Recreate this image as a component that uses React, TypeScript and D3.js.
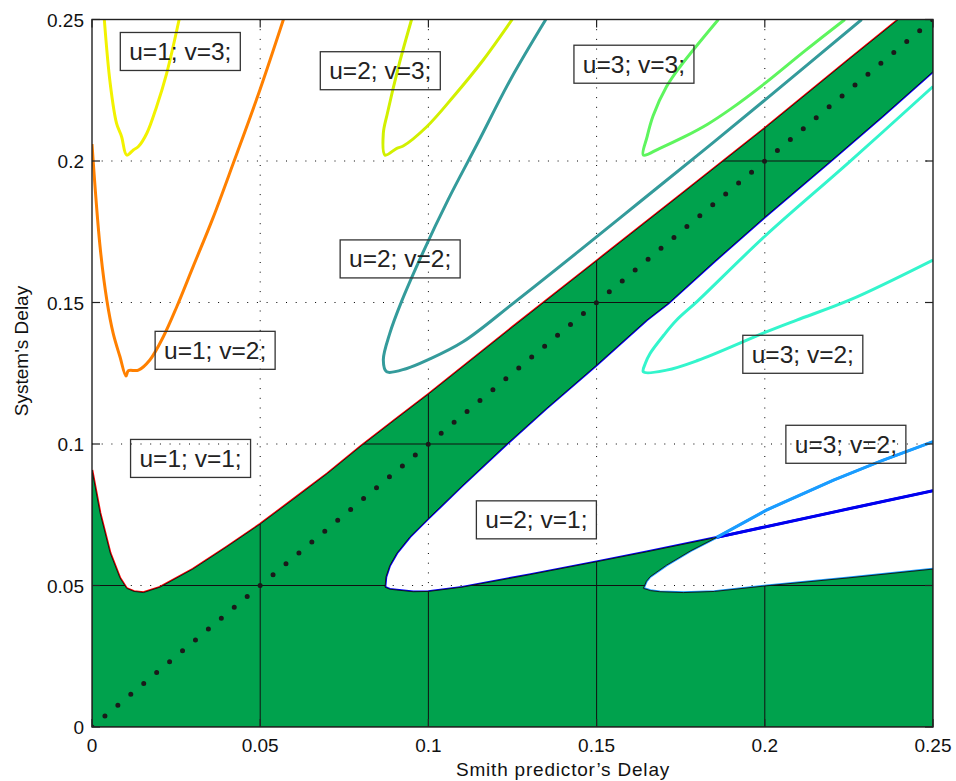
import React from 'react';
import * as d3 from 'd3';

type Pt = [number, number];

// axis ticks (both axes share them)
const ticks = [0, 0.05, 0.1, 0.15, 0.2, 0.25];
const tickLabels = ['0', '0.05', '0.1', '0.15', '0.2', '0.25'];

// stability boundary u=1; v=1 (upper edge of the green region)
const u1v1: Pt[] = [
  [0, 0.0908], [0.0024, 0.0756], [0.0054, 0.0615], [0.0083, 0.0527], [0.0103, 0.049],
  [0.0125, 0.0479], [0.0153, 0.0475], [0.0202, 0.0494], [0.03, 0.0558], [0.04, 0.0636],
  [0.05, 0.0717], [0.06, 0.0806], [0.07, 0.0896], [0.08, 0.0993], [0.09, 0.1085],
  [0.1, 0.1176], [0.125, 0.1413], [0.15, 0.1647], [0.175, 0.1881], [0.2, 0.2116],
  [0.225, 0.2359], [0.2397, 0.25],
];

// u=2; v=1 : upper and lower branch, both starting at the nose
const u2v1Upper: Pt[] = [
  [0.0871, 0.0494], [0.0874, 0.0531], [0.0885, 0.057], [0.0906, 0.0614], [0.0945, 0.0672],
  [0.1, 0.0737], [0.11, 0.0852], [0.1233, 0.1], [0.135, 0.1125], [0.15, 0.1279],
  [0.1649, 0.1438], [0.1713, 0.1497], [0.185, 0.1645], [0.2001, 0.1803], [0.2194, 0.1998],
  [0.235, 0.2158], [0.25, 0.2316],
];
const u2v1Lower: Pt[] = [
  [0.0871, 0.0494], [0.0885, 0.0487], [0.0906, 0.0484], [0.0955, 0.0478], [0.1, 0.0479],
  [0.11, 0.0494], [0.13, 0.0538], [0.15, 0.0584], [0.1649, 0.0619], [0.1857, 0.067],
  [0.2, 0.0707], [0.225, 0.0771], [0.25, 0.0835],
];

// u=3; v=2 (lower one), branches from the nose
const u3v2bUpper: Pt[] = [
  [0.1639, 0.049], [0.1648, 0.0515], [0.1659, 0.0531], [0.1708, 0.0572], [0.178, 0.0623],
  [0.1857, 0.067], [0.2006, 0.0767], [0.2204, 0.0872], [0.235, 0.0942], [0.25, 0.1008],
];
const u3v2bLower: Pt[] = [
  [0.1639, 0.049], [0.166, 0.0482], [0.1688, 0.0478], [0.1758, 0.0475], [0.185, 0.0479],
  [0.2006, 0.0499], [0.225, 0.0527], [0.25, 0.0558],
];
const crossX = 0.1857;

// other boundaries
const u1v3: Pt[] = [
  [0.00366, 0.25], [0.0054, 0.2275], [0.0073, 0.2133], [0.0088, 0.2086], [0.0103, 0.2021],
  [0.0123, 0.2039], [0.0138, 0.2051], [0.0163, 0.2098], [0.0192, 0.2192], [0.0222, 0.231],
  [0.0259, 0.25],
];
const u1v2: Pt[] = [
  [0, 0.206], [0.0024, 0.1697], [0.0044, 0.1509], [0.0063, 0.1391], [0.0083, 0.1309],
  [0.0101, 0.124], [0.0108, 0.1259], [0.0138, 0.1261], [0.0172, 0.1297], [0.0212, 0.1379],
  [0.0252, 0.1485], [0.03, 0.1625], [0.036, 0.18], [0.042, 0.1992], [0.0499, 0.2251],
  [0.0569, 0.25],
];
const u2v3: Pt[] = [
  [0.095, 0.25], [0.0911, 0.2333], [0.0878, 0.2168], [0.0866, 0.2098], [0.0871, 0.2021],
  [0.0906, 0.2045], [0.0925, 0.2053], [0.0995, 0.2121], [0.1074, 0.2227], [0.1163, 0.2357],
  [0.1249, 0.25],
];
const u2v2: Pt[] = [
  [0.1349, 0.25], [0.1245, 0.229], [0.1145, 0.206], [0.1058, 0.1862], [0.0985, 0.168],
  [0.092, 0.1503], [0.0885, 0.139], [0.0866, 0.1297], [0.0876, 0.1255],
  [0.0936, 0.1267], [0.1, 0.1298], [0.1104, 0.1362], [0.1252, 0.1497], [0.145, 0.1684],
  [0.1629, 0.1856], [0.1807, 0.2027], [0.2001, 0.2216], [0.2288, 0.25],
];
const u3v3: Pt[] = [
  [0.1862, 0.25], [0.1748, 0.2333], [0.1708, 0.2263], [0.1668, 0.216], [0.165, 0.2085],
  [0.1639, 0.2021], [0.1688, 0.2045], [0.176, 0.2085], [0.183, 0.213], [0.19, 0.2185],
  [0.2001, 0.2275], [0.212, 0.239], [0.2238, 0.25],
];
const u3v2a: Pt[] = [
  [0.25, 0.2263], [0.225, 0.1995], [0.2001, 0.1735], [0.18, 0.1505], [0.1738, 0.1438],
  [0.17, 0.1385], [0.1659, 0.132], [0.1645, 0.1285], [0.1639, 0.1255], [0.1708, 0.1261],
  [0.18, 0.1295], [0.2006, 0.1397], [0.2095, 0.1438], [0.2253, 0.1509], [0.25, 0.165],
];

const diagonal: Pt[] = [[0, 0], [0.25, 0.25]];

// text annotations (data coords of the box centres)
const notes = [
  { text: 'u=1; v=3;', x: 0.02625, y: 0.2387 },
  { text: 'u=2; v=3;', x: 0.0857, y: 0.2319 },
  { text: 'u=3; v=3;', x: 0.1611, y: 0.2342 },
  { text: 'u=2; v=2;', x: 0.0916, y: 0.1654 },
  { text: 'u=1; v=2;', x: 0.0366, y: 0.1331 },
  { text: 'u=1; v=1;', x: 0.0293, y: 0.0949 },
  { text: 'u=2; v=1;', x: 0.1321, y: 0.0732 },
  { text: 'u=3; v=2;', x: 0.2113, y: 0.1317 },
  { text: 'u=3; v=2;', x: 0.2241, y: 0.0999 },
];

const FONT = 'Liberation Sans, Arial, Helvetica, sans-serif';
const GREEN = '#00a24d';

export default function App() {
  const W = 956;
  const H = 781;
  const x = d3.scaleLinear().domain([0, 0.25]).range([92, 933]);
  const y = d3.scaleLinear().domain([0, 0.25]).range([727, 19.5]);
  const line = d3.line<Pt>().x((d) => x(d[0])).y((d) => y(d[1]));
  const smooth = d3.line<Pt>().x((d) => x(d[0])).y((d) => y(d[1])).curve(d3.curveCatmullRom.alpha(0.5));

  // stable (green) region
  const green: Pt[] = [
    [0, 0],
    ...u1v1,
    [0.25, 0.25],
    ...u2v1Upper.slice().reverse(),
    ...u2v1Lower.filter((p) => p[0] <= crossX),
    ...u3v2bUpper.filter((p) => p[0] <= crossX).reverse(),
    ...u3v2bLower,
    [0.25, 0],
  ];
  const greenD = line(green) + 'Z';

  const x0 = x(0), x1 = x(0.25), y0 = y(0), y1 = y(0.25);

  const thick = [
    { d: u1v3, c: '#f2f200' },
    { d: u1v2, c: '#ff8000' },
    { d: u2v3, c: '#d2f000' },
    { d: u2v2, c: '#349b9b' },
    { d: u3v3, c: '#5ef55e' },
    { d: u3v2a, c: '#33f5cc' },
  ];

  return (
    <svg width={W} height={H} style={{ position: 'absolute', left: 0, top: 0, background: '#fff' }}>
      <defs>
        <clipPath id="plot">
          <rect x={x0} y={y1} width={x1 - x0} height={y0 - y1} />
        </clipPath>
        <clipPath id="greenClip">
          <path d={greenD} />
        </clipPath>
      </defs>

      {/* dotted grid */}
      <g stroke="#000" strokeWidth={1} strokeDasharray="1 8.7">
        {ticks.slice(1, -1).map((t) => (
          <line key={'vx' + t} x1={x(t)} x2={x(t)} y1={y1} y2={y0} />
        ))}
        {ticks.slice(1, -1).map((t) => (
          <line key={'hy' + t} x1={x0} x2={x1} y1={y(t)} y2={y(t)} />
        ))}
      </g>

      <g clipPath="url(#plot)">
        {/* coloured edges peeking out of the green patch */}
        <path d={line(u1v1)!} fill="none" stroke="#ff0000" strokeWidth={2.6} />
        <path d={line(u2v1Upper)!} fill="none" stroke="#0000ff" strokeWidth={2.6} />
        <path d={line(u2v1Lower)!} fill="none" stroke="#0000ff" strokeWidth={2.6} />
        <path d={line(u3v2bUpper)!} fill="none" stroke="#1a9cff" strokeWidth={2.6} />
        <path d={line(u3v2bLower)!} fill="none" stroke="#1a9cff" strokeWidth={2.6} />

        <path d={greenD} fill={GREEN} />
        {/* solid grid inside green */}
        <g clipPath="url(#greenClip)" stroke="#111" strokeWidth={1}>
          {ticks.slice(1, -1).map((t) => (
            <line key={'gx' + t} x1={x(t)} x2={x(t)} y1={y1} y2={y0} />
          ))}
          {ticks.slice(1, -1).map((t) => (
            <line key={'gy' + t} x1={x0} x2={x1} y1={y(t)} y2={y(t)} />
          ))}
        </g>
        <path d={greenD} fill="none" stroke="#111" strokeWidth={0.9} />

        {/* thick segments outside the green region */}
        <path d={line(u2v1Lower.filter((p) => p[0] >= crossX))!} fill="none" stroke="#0000ee" strokeWidth={3} />
        <path d={line(u3v2bUpper.filter((p) => p[0] >= crossX))!} fill="none" stroke="#1a9cff" strokeWidth={3} />

        {thick.map((s, i) => (
          <path key={i} d={smooth(s.d)!} fill="none" stroke={s.c} strokeWidth={3} strokeLinejoin="round" />
        ))}

        {/* diagonal */}
        <path d={line(diagonal)!} fill="none" stroke="#1a1a1a" strokeWidth={5} strokeLinecap="round" strokeDasharray="0 16.9" />
      </g>

      {/* annotations */}
      {notes.map((n, i) => (
        <g key={i} transform={`translate(${x(n.x)},${y(n.y)})`}>
          <rect x={-60} y={-19} width={120} height={38} fill="none" stroke="#333" strokeWidth={1.3} />
          <text x={0} y={8.5} textAnchor="middle" fontFamily={FONT} fontSize={24.5} fill="#222">
            {n.text}
          </text>
        </g>
      ))}

      {/* axes box and ticks */}
      <rect x={x0} y={y1} width={x1 - x0} height={y0 - y1} fill="none" stroke="#222" strokeWidth={1.4} />
      <g stroke="#222" strokeWidth={1.2}>
        {ticks.map((t) => (
          <g key={'t' + t}>
            <line x1={x(t)} x2={x(t)} y1={y0} y2={y0 - 8} />
            <line x1={x(t)} x2={x(t)} y1={y1} y2={y1 + 8} />
            <line x1={x0} x2={x0 + 8} y1={y(t)} y2={y(t)} />
            <line x1={x1} x2={x1 - 8} y1={y(t)} y2={y(t)} />
          </g>
        ))}
      </g>
      <g fontFamily={FONT} fontSize={19} fill="#111">
        {ticks.map((t, i) => (
          <text key={'xl' + t} x={x(t)} y={752} textAnchor="middle">
            {tickLabels[i]}
          </text>
        ))}
        {ticks.map((t, i) => (
          <text key={'yl' + t} x={84} y={y(t) + 7} textAnchor="end">
            {tickLabels[i]}
          </text>
        ))}
        <text x={563} y={776} textAnchor="middle" letterSpacing={0.8}>
          Smith predictor’s Delay
        </text>
        <text transform="translate(28,351) rotate(-90)" textAnchor="middle">
          System's Delay
        </text>
      </g>
    </svg>
  );
}
